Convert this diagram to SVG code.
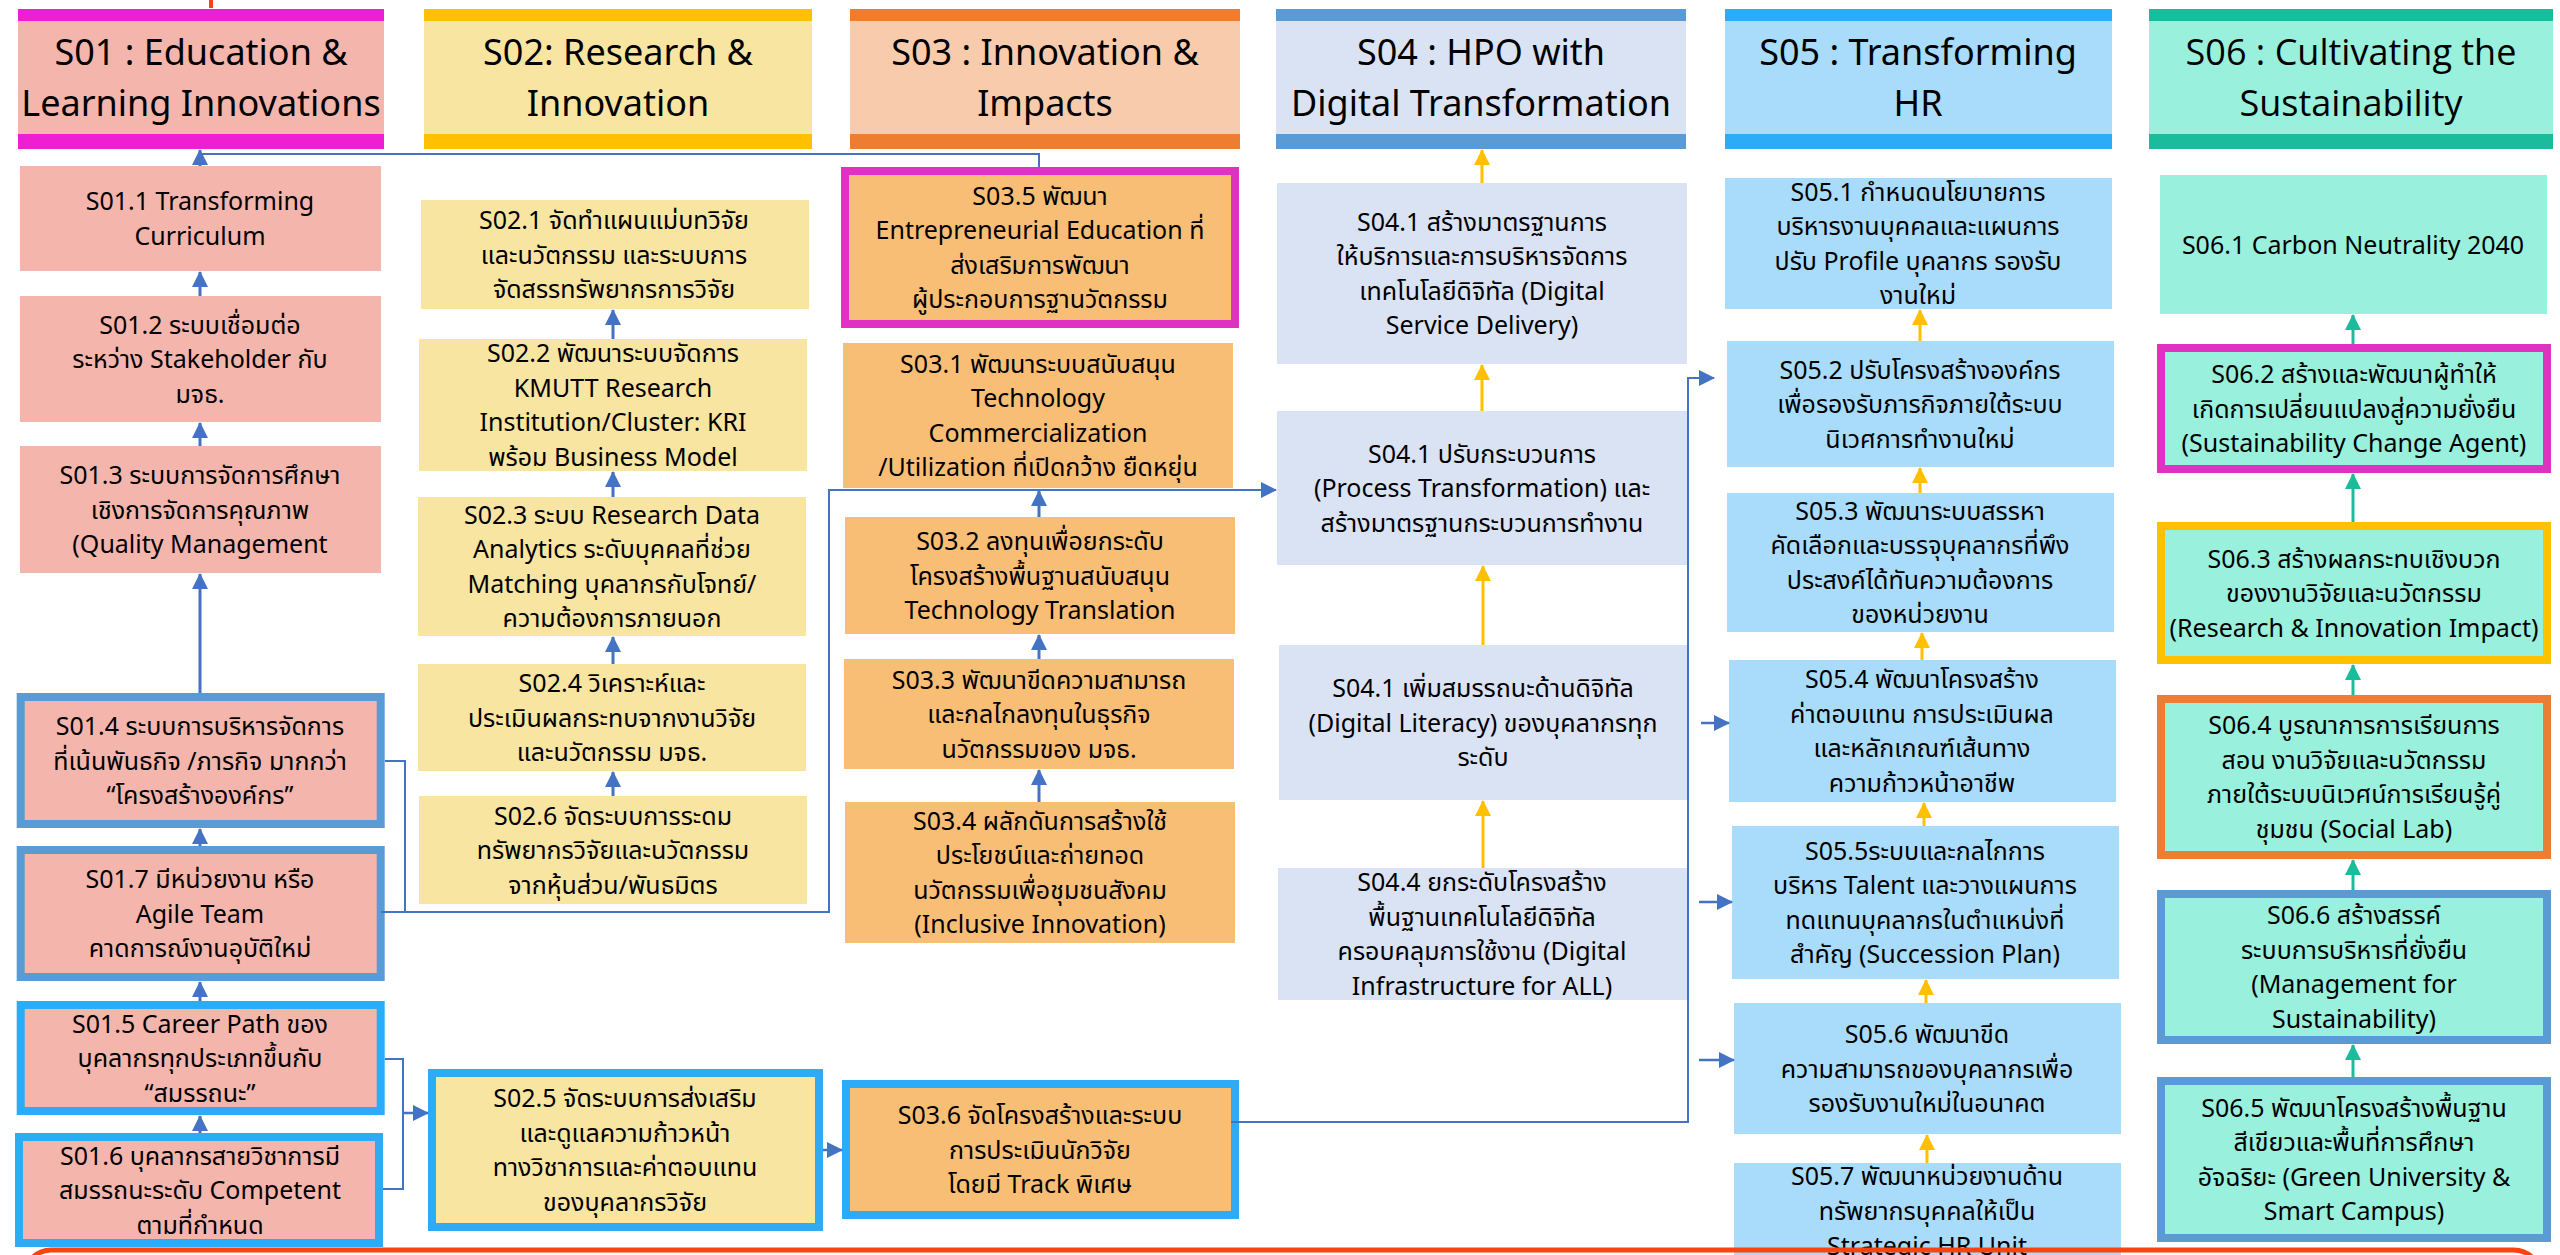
<svg xmlns="http://www.w3.org/2000/svg" width="2560" height="1255" viewBox="0 0 2560 1255">
<defs>
<marker id="ab" markerUnits="userSpaceOnUse" markerWidth="17" markerHeight="17" refX="15" refY="8" orient="auto"><path d="M0,0 L16,8 L0,16 z" fill="#4472c4"/></marker>
<marker id="ay" markerUnits="userSpaceOnUse" markerWidth="17" markerHeight="17" refX="15" refY="8" orient="auto"><path d="M0,0 L16,8 L0,16 z" fill="#ffc000"/></marker>
<marker id="at" markerUnits="userSpaceOnUse" markerWidth="17" markerHeight="17" refX="15" refY="8" orient="auto"><path d="M0,0 L16,8 L0,16 z" fill="#1abc9c"/></marker>
</defs>
<style>
text{font-family:"Noto Sans Thai","Noto Sans","Liberation Sans",sans-serif;fill:#000;text-anchor:middle}
.t{font-size:25px}
.h{font-size:36px}
.h6{font-family:"Open Sans","Noto Sans",sans-serif;font-size:36px}
.c1{fill:#f4b5ac}.c2{fill:#f8e5a1}.c3h{fill:#f8cbad}.c3{fill:#f9be75}.c4{fill:#dae3f3}.c5{fill:#a9dcfb}.c6{fill:#99f0dc}
.bm{stroke:#e031c2;stroke-width:8}
.bb{stroke:#5b9bd5;stroke-width:8}
.bl{stroke:#2cacf7;stroke-width:8}
.by{stroke:#ffc000;stroke-width:8}
.bo{stroke:#ed7d31;stroke-width:8}
.cn{fill:none;stroke:#4472c4;stroke-width:2}
.va{fill:none;stroke:#4472c4;stroke-width:3;marker-end:url(#ab)}
.ya{fill:none;stroke:#ffc000;stroke-width:3;marker-end:url(#ay)}
.ta{fill:none;stroke:#1abc9c;stroke-width:3;marker-end:url(#at)}
</style>
<rect width="2560" height="1255" fill="#fff"/>
<rect x="209" y="0" width="4" height="8" fill="#fb4312"/>

<!-- Headers -->
<g id="H1"><rect x="18" y="9" width="366" height="140" class="c1"/><rect x="18" y="9" width="366" height="12" fill="#ee1fd2"/><rect x="18" y="134" width="366" height="15" fill="#ee1fd2"/>
<text class="h"><tspan x="201" y="65">S01 : Education &amp;</tspan><tspan x="201" y="116">Learning Innovations</tspan></text></g>
<g id="H2"><rect x="424" y="9" width="388" height="140" class="c2"/><rect x="424" y="9" width="388" height="12" fill="#ffc000"/><rect x="424" y="134" width="388" height="15" fill="#ffc000"/>
<text class="h"><tspan x="618" y="65">S02: Research &amp;</tspan><tspan x="618" y="116">Innovation</tspan></text></g>
<g id="H3"><rect x="850" y="9" width="390" height="140" class="c3h"/><rect x="850" y="9" width="390" height="12" fill="#ed7d31"/><rect x="850" y="134" width="390" height="15" fill="#ed7d31"/>
<text class="h"><tspan x="1045" y="65">S03 : Innovation &amp;</tspan><tspan x="1045" y="116">Impacts</tspan></text></g>
<g id="H4"><rect x="1276" y="9" width="410" height="140" class="c4"/><rect x="1276" y="9" width="410" height="12" fill="#5b9bd5"/><rect x="1276" y="134" width="410" height="15" fill="#5b9bd5"/>
<text class="h"><tspan x="1481" y="65">S04 : HPO with</tspan><tspan x="1481" y="116">Digital Transformation</tspan></text></g>
<g id="H5"><rect x="1725" y="9" width="387" height="140" class="c5"/><rect x="1725" y="9" width="387" height="12" fill="#2cacf7"/><rect x="1725" y="134" width="387" height="15" fill="#2cacf7"/>
<text class="h"><tspan x="1918" y="65">S05 : Transforming</tspan><tspan x="1918" y="116">HR</tspan></text></g>
<g id="H6"><rect x="2149" y="9" width="404" height="140" class="c6"/><rect x="2149" y="9" width="404" height="12" fill="#1abc9c"/><rect x="2149" y="134" width="404" height="15" fill="#1abc9c"/>
<text class="h6"><tspan x="2351" y="65">S06 : Cultivating the</tspan><tspan x="2351" y="116">Sustainability</tspan></text></g>

<!-- Column 1 -->
<g id="S01_1"><rect x="20" y="166" width="361" height="105" class="c1"/><text class="t"><tspan x="200" y="210">S01.1 Transforming</tspan><tspan x="200" y="245">Curriculum</tspan></text></g>
<g id="S01_2"><rect x="20" y="296" width="361" height="126" class="c1"/><text class="t"><tspan x="200" y="333.5">S01.2 ระบบเชื่อมต่อ</tspan><tspan x="200" y="368">ระหว่าง Stakeholder กับ</tspan><tspan x="200" y="402.5">มจธ.</tspan></text></g>
<g id="S01_3"><rect x="20" y="446" width="361" height="127" class="c1"/><text class="t"><tspan x="200" y="484">S01.3 ระบบการจัดการศึกษา</tspan><tspan x="200" y="518.5">เชิงการจัดการคุณภาพ</tspan><tspan x="200" y="553">(Quality Management</tspan></text></g>
<g id="S01_4"><rect x="20.7" y="697" width="360" height="127" class="c1 bb"/><text class="t"><tspan x="200" y="735">S01.4 ระบบการบริหารจัดการ</tspan><tspan x="200" y="769.5">ที่เน้นพันธกิจ /ภารกิจ มากกว่า</tspan><tspan x="200" y="804">“โครงสร้างองค์กร”</tspan></text></g>
<g id="S01_7"><rect x="20.7" y="850" width="360" height="127" class="c1 bb"/><text class="t"><tspan x="200" y="888">S01.7 มีหน่วยงาน หรือ</tspan><tspan x="200" y="922.5">Agile Team</tspan><tspan x="200" y="957">คาดการณ์งานอุบัติใหม่</tspan></text></g>
<g id="S01_5"><rect x="20.7" y="1005" width="360" height="106" class="c1 bl"/><text class="t"><tspan x="200" y="1032.5">S01.5 Career Path ของ</tspan><tspan x="200" y="1067">บุคลากรทุกประเภทขึ้นกับ</tspan><tspan x="200" y="1101.5">“สมรรถนะ”</tspan></text></g>
<g id="S01_6"><rect x="19" y="1137" width="360" height="106" class="c1 bl"/><text class="t"><tspan x="200" y="1164.5">S01.6 บุคลากรสายวิชาการมี</tspan><tspan x="200" y="1199">สมรรถนะระดับ Competent</tspan><tspan x="200" y="1233.5">ตามที่กำหนด</tspan></text></g>

<!-- Column 2 -->
<g id="S02_1"><rect x="421" y="200" width="388" height="109" class="c2"/><text class="t"><tspan x="614" y="229">S02.1 จัดทำแผนแม่บทวิจัย</tspan><tspan x="614" y="263.5">และนวัตกรรม และระบบการ</tspan><tspan x="614" y="298">จัดสรรทรัพยากรการวิจัย</tspan></text></g>
<g id="S02_2"><rect x="419" y="339" width="388" height="132" class="c2"/><text class="t"><tspan x="613" y="362.25">S02.2 พัฒนาระบบจัดการ</tspan><tspan x="613" y="396.75">KMUTT Research</tspan><tspan x="613" y="431.25">Institution/Cluster: KRI</tspan><tspan x="613" y="465.75">พร้อม Business Model</tspan></text></g>
<g id="S02_3"><rect x="418" y="497" width="388" height="139" class="c2"/><text class="t"><tspan x="612" y="523.75">S02.3 ระบบ Research Data</tspan><tspan x="612" y="558.25">Analytics ระดับบุคคลที่ช่วย</tspan><tspan x="612" y="592.75">Matching บุคลากรกับโจทย์/</tspan><tspan x="612" y="627.25">ความต้องการภายนอก</tspan></text></g>
<g id="S02_4"><rect x="418" y="664" width="388" height="107" class="c2"/><text class="t"><tspan x="612" y="692">S02.4 วิเคราะห์และ</tspan><tspan x="612" y="726.5">ประเมินผลกระทบจากงานวิจัย</tspan><tspan x="612" y="761">และนวัตกรรม มจธ.</tspan></text></g>
<g id="S02_6"><rect x="419" y="796" width="388" height="108" class="c2"/><text class="t"><tspan x="613" y="824.5">S02.6 จัดระบบการระดม</tspan><tspan x="613" y="859">ทรัพยากรวิจัยและนวัตกรรม</tspan><tspan x="613" y="893.5">จากหุ้นส่วน/พันธมิตร</tspan></text></g>
<g id="S02_5"><rect x="432" y="1073" width="387" height="154" class="c2 bl"/><text class="t"><tspan x="625" y="1107.25">S02.5 จัดระบบการส่งเสริม</tspan><tspan x="625" y="1141.75">และดูแลความก้าวหน้า</tspan><tspan x="625" y="1176.25">ทางวิชาการและค่าตอบแทน</tspan><tspan x="625" y="1210.75">ของบุคลากรวิจัย</tspan></text></g>

<!-- Column 3 -->
<g id="S03_5"><rect x="845" y="171" width="390" height="153" class="c3 bm"/><text class="t"><tspan x="1040" y="204.75">S03.5 พัฒนา</tspan><tspan x="1040" y="239.25">Entrepreneurial Education ที่</tspan><tspan x="1040" y="273.75">ส่งเสริมการพัฒนา</tspan><tspan x="1040" y="308.25">ผู้ประกอบการฐานวัตกรรม</tspan></text></g>
<g id="S03_1"><rect x="843" y="343" width="390" height="145" class="c3"/><text class="t"><tspan x="1038" y="372.75">S03.1 พัฒนาระบบสนับสนุน</tspan><tspan x="1038" y="407.25">Technology</tspan><tspan x="1038" y="441.75">Commercialization</tspan><tspan x="1038" y="476.25">/Utilization ที่เปิดกว้าง ยืดหยุ่น</tspan></text></g>
<g id="S03_2"><rect x="845" y="517" width="390" height="117" class="c3"/><text class="t"><tspan x="1040" y="550">S03.2 ลงทุนเพื่อยกระดับ</tspan><tspan x="1040" y="584.5">โครงสร้างพื้นฐานสนับสนุน</tspan><tspan x="1040" y="619">Technology Translation</tspan></text></g>
<g id="S03_3"><rect x="844" y="659" width="390" height="110" class="c3"/><text class="t"><tspan x="1039" y="688.5">S03.3 พัฒนาขีดความสามารถ</tspan><tspan x="1039" y="723">และกลไกลงทุนในธุรกิจ</tspan><tspan x="1039" y="757.5">นวัตกรรมของ มจธ.</tspan></text></g>
<g id="S03_4"><rect x="845" y="802" width="390" height="141" class="c3"/><text class="t"><tspan x="1040" y="829.75">S03.4 ผลักดันการสร้างใช้</tspan><tspan x="1040" y="864.25">ประโยชน์และถ่ายทอด</tspan><tspan x="1040" y="898.75">นวัตกรรมเพื่อชุมชนสังคม</tspan><tspan x="1040" y="933.25">(Inclusive Innovation)</tspan></text></g>
<g id="S03_6"><rect x="846" y="1084" width="389" height="131" class="c3 bl"/><text class="t"><tspan x="1040" y="1124">S03.6 จัดโครงสร้างและระบบ</tspan><tspan x="1040" y="1158.5">การประเมินนักวิจัย</tspan><tspan x="1040" y="1193">โดยมี Track พิเศษ</tspan></text></g>

<!-- Column 4 -->
<g id="S04_1a"><rect x="1277" y="183" width="410" height="181" class="c4"/><text class="t"><tspan x="1482" y="230.75">S04.1 สร้างมาตรฐานการ</tspan><tspan x="1482" y="265.25">ให้บริการและการบริหารจัดการ</tspan><tspan x="1482" y="299.75">เทคโนโลยีดิจิทัล (Digital</tspan><tspan x="1482" y="334.25">Service Delivery)</tspan></text></g>
<g id="S04_1b"><rect x="1277" y="411" width="410" height="154" class="c4"/><text class="t"><tspan x="1482" y="462.5">S04.1 ปรับกระบวนการ</tspan><tspan x="1482" y="497">(Process Transformation) และ</tspan><tspan x="1482" y="531.5">สร้างมาตรฐานกระบวนการทำงาน</tspan></text></g>
<g id="S04_1c"><rect x="1279" y="645" width="408" height="155" class="c4"/><text class="t"><tspan x="1483" y="697">S04.1 เพิ่มสมรรถนะด้านดิจิทัล</tspan><tspan x="1483" y="731.5">(Digital Literacy) ของบุคลากรทุก</tspan><tspan x="1483" y="766">ระดับ</tspan></text></g>
<g id="S04_4"><rect x="1278" y="868" width="409" height="132" class="c4"/><text class="t"><tspan x="1482" y="891.25">S04.4 ยกระดับโครงสร้าง</tspan><tspan x="1482" y="925.75">พื้นฐานเทคโนโลยีดิจิทัล</tspan><tspan x="1482" y="960.25">ครอบคลุมการใช้งาน (Digital</tspan><tspan x="1482" y="994.75">Infrastructure for ALL)</tspan></text></g>

<!-- Column 5 -->
<g id="S05_1"><rect x="1725" y="178" width="387" height="131" class="c5"/><text class="t"><tspan x="1918" y="200.75">S05.1 กำหนดนโยบายการ</tspan><tspan x="1918" y="235.25">บริหารงานบุคคลและแผนการ</tspan><tspan x="1918" y="269.75">ปรับ Profile บุคลากร รองรับ</tspan><tspan x="1918" y="304.25">งานใหม่</tspan></text></g>
<g id="S05_2"><rect x="1727" y="341" width="387" height="126" class="c5"/><text class="t"><tspan x="1920" y="378.5">S05.2 ปรับโครงสร้างองค์กร</tspan><tspan x="1920" y="413">เพื่อรองรับภารกิจภายใต้ระบบ</tspan><tspan x="1920" y="447.5">นิเวศการทำงานใหม่</tspan></text></g>
<g id="S05_3"><rect x="1727" y="493" width="387" height="139" class="c5"/><text class="t"><tspan x="1920" y="519.75">S05.3 พัฒนาระบบสรรหา</tspan><tspan x="1920" y="554.25">คัดเลือกและบรรจุบุคลากรที่พึง</tspan><tspan x="1920" y="588.75">ประสงค์ได้ทันความต้องการ</tspan><tspan x="1920" y="623.25">ของหน่วยงาน</tspan></text></g>
<g id="S05_4"><rect x="1729" y="660" width="387" height="142" class="c5"/><text class="t"><tspan x="1922" y="688.25">S05.4 พัฒนาโครงสร้าง</tspan><tspan x="1922" y="722.75">ค่าตอบแทน การประเมินผล</tspan><tspan x="1922" y="757.25">และหลักเกณฑ์เส้นทาง</tspan><tspan x="1922" y="791.75">ความก้าวหน้าอาชีพ</tspan></text></g>
<g id="S05_5"><rect x="1732" y="826" width="387" height="153" class="c5"/><text class="t"><tspan x="1925" y="859.75">S05.5ระบบและกลไกการ</tspan><tspan x="1925" y="894.25">บริหาร Talent และวางแผนการ</tspan><tspan x="1925" y="928.75">ทดแทนบุคลากรในตำแหน่งที่</tspan><tspan x="1925" y="963.25">สำคัญ (Succession Plan)</tspan></text></g>
<g id="S05_6"><rect x="1734" y="1003" width="387" height="131" class="c5"/><text class="t"><tspan x="1927" y="1043">S05.6 พัฒนาขีด</tspan><tspan x="1927" y="1077.5">ความสามารถของบุคลากรเพื่อ</tspan><tspan x="1927" y="1112">รองรับงานใหม่ในอนาคต</tspan></text></g>
<g id="S05_7"><rect x="1734" y="1163" width="387" height="92" class="c5"/><text class="t"><tspan x="1927" y="1185">S05.7 พัฒนาหน่วยงานด้าน</tspan><tspan x="1927" y="1220">ทรัพยากรบุคคลให้เป็น</tspan><tspan x="1927" y="1255">Strategic HR Unit</tspan></text></g>

<!-- Column 6 -->
<g id="S06_1"><rect x="2160" y="175" width="387" height="139" class="c6"/><text class="t"><tspan x="2353" y="253.5">S06.1 Carbon Neutrality 2040</tspan></text></g>
<g id="S06_2"><rect x="2161" y="348" width="386" height="121" class="c6 bm"/><text class="t"><tspan x="2354" y="383">S06.2 สร้างและพัฒนาผู้ทำให้</tspan><tspan x="2354" y="417.5">เกิดการเปลี่ยนแปลงสู่ความยั่งยืน</tspan><tspan x="2354" y="452">(Sustainability Change Agent)</tspan></text></g>
<g id="S06_3"><rect x="2161" y="526" width="386" height="134" class="c6 by"/><text class="t"><tspan x="2354" y="567.5">S06.3 สร้างผลกระทบเชิงบวก</tspan><tspan x="2354" y="602">ของงานวิจัยและนวัตกรรม</tspan><tspan x="2354" y="636.5">(Research &amp; Innovation Impact)</tspan></text></g>
<g id="S06_4"><rect x="2161" y="699" width="386" height="156" class="c6 bo"/><text class="t"><tspan x="2354" y="734.25">S06.4 บูรณาการการเรียนการ</tspan><tspan x="2354" y="768.75">สอน งานวิจัยและนวัตกรรม</tspan><tspan x="2354" y="803.25">ภายใต้ระบบนิเวศน์การเรียนรู้คู่</tspan><tspan x="2354" y="837.75">ชุมชน (Social Lab)</tspan></text></g>
<g id="S06_6"><rect x="2161" y="894" width="386" height="146" class="c6 bb"/><text class="t"><tspan x="2354" y="924.25">S06.6 สร้างสรรค์</tspan><tspan x="2354" y="958.75">ระบบการบริหารที่ยั่งยืน</tspan><tspan x="2354" y="993.25">(Management for</tspan><tspan x="2354" y="1027.75">Sustainability)</tspan></text></g>
<g id="S06_5"><rect x="2161" y="1081" width="386" height="157" class="c6 bb"/><text class="t"><tspan x="2354" y="1116.75">S06.5 พัฒนาโครงสร้างพื้นฐาน</tspan><tspan x="2354" y="1151.25">สีเขียวและพื้นที่การศึกษา</tspan><tspan x="2354" y="1185.75">อัจฉริยะ (Green University &amp;</tspan><tspan x="2354" y="1220.25">Smart Campus)</tspan></text></g>

<!-- Connectors -->
<g id="connectors">
<path class="va" d="M200,166 V150"/>
<path class="cn" d="M1039,167 V154 H200"/>
<path class="va" d="M200,296 V272"/>
<path class="va" d="M200,446 V423"/>
<path class="va" d="M200,693 V574"/>
<path class="va" d="M200,846 V829"/>
<path class="va" d="M200,1001 V982"/>
<path class="va" d="M200,1133 V1116"/>
<path class="cn" d="M385,761 H405 V912"/>
<path class="cn" d="M381,912 H829 V490 H1255"/>
<path class="va" style="stroke-width:2" d="M1240,490 H1276"/>
<path class="cn" d="M385,1059 H403 V1189 H383"/>
<path class="va" style="stroke-width:2.5" d="M403,1113 H428"/>
<path class="va" d="M613,339 V310"/>
<path class="va" d="M613,497 V472"/>
<path class="va" d="M613,664 V637"/>
<path class="va" d="M613,796 V772"/>
<path class="va" style="stroke-width:2.5" d="M823,1150 H842"/>
<path class="va" d="M1039,517 V491"/>
<path class="va" d="M1039,659 V635"/>
<path class="va" d="M1039,802 V770"/>
<path class="cn" d="M1231,1122 H1688 V378 H1700"/>
<path class="va" style="stroke-width:2" d="M1690,378 H1714"/>
<path class="va" style="stroke-width:2.5" d="M1701,723 H1729"/>
<path class="va" style="stroke-width:2.5" d="M1699,902 H1732"/>
<path class="va" style="stroke-width:2.5" d="M1699,1060 H1734"/>
<path class="ya" d="M1482,183 V150"/>
<path class="ya" d="M1482,411 V365"/>
<path class="ya" d="M1483,645 V566"/>
<path class="ya" d="M1483,868 V801"/>
<path class="ya" d="M1920,341 V310"/>
<path class="ya" d="M1920,493 V468"/>
<path class="ya" d="M1922,660 V633"/>
<path class="ya" d="M1924,826 V803"/>
<path class="ya" d="M1926,1003 V980"/>
<path class="ya" d="M1927,1163 V1135"/>
<path class="ta" d="M2353,344 V315"/>
<path class="ta" d="M2353,522 V474"/>
<path class="ta" d="M2353,695 V665"/>
<path class="ta" d="M2353,890 V860"/>
<path class="ta" d="M2353,1077 V1045"/>
</g>

<rect x="25" y="1250" width="2515" height="80" rx="26" fill="none" stroke="#fb4312" stroke-width="5"/>
</svg>
